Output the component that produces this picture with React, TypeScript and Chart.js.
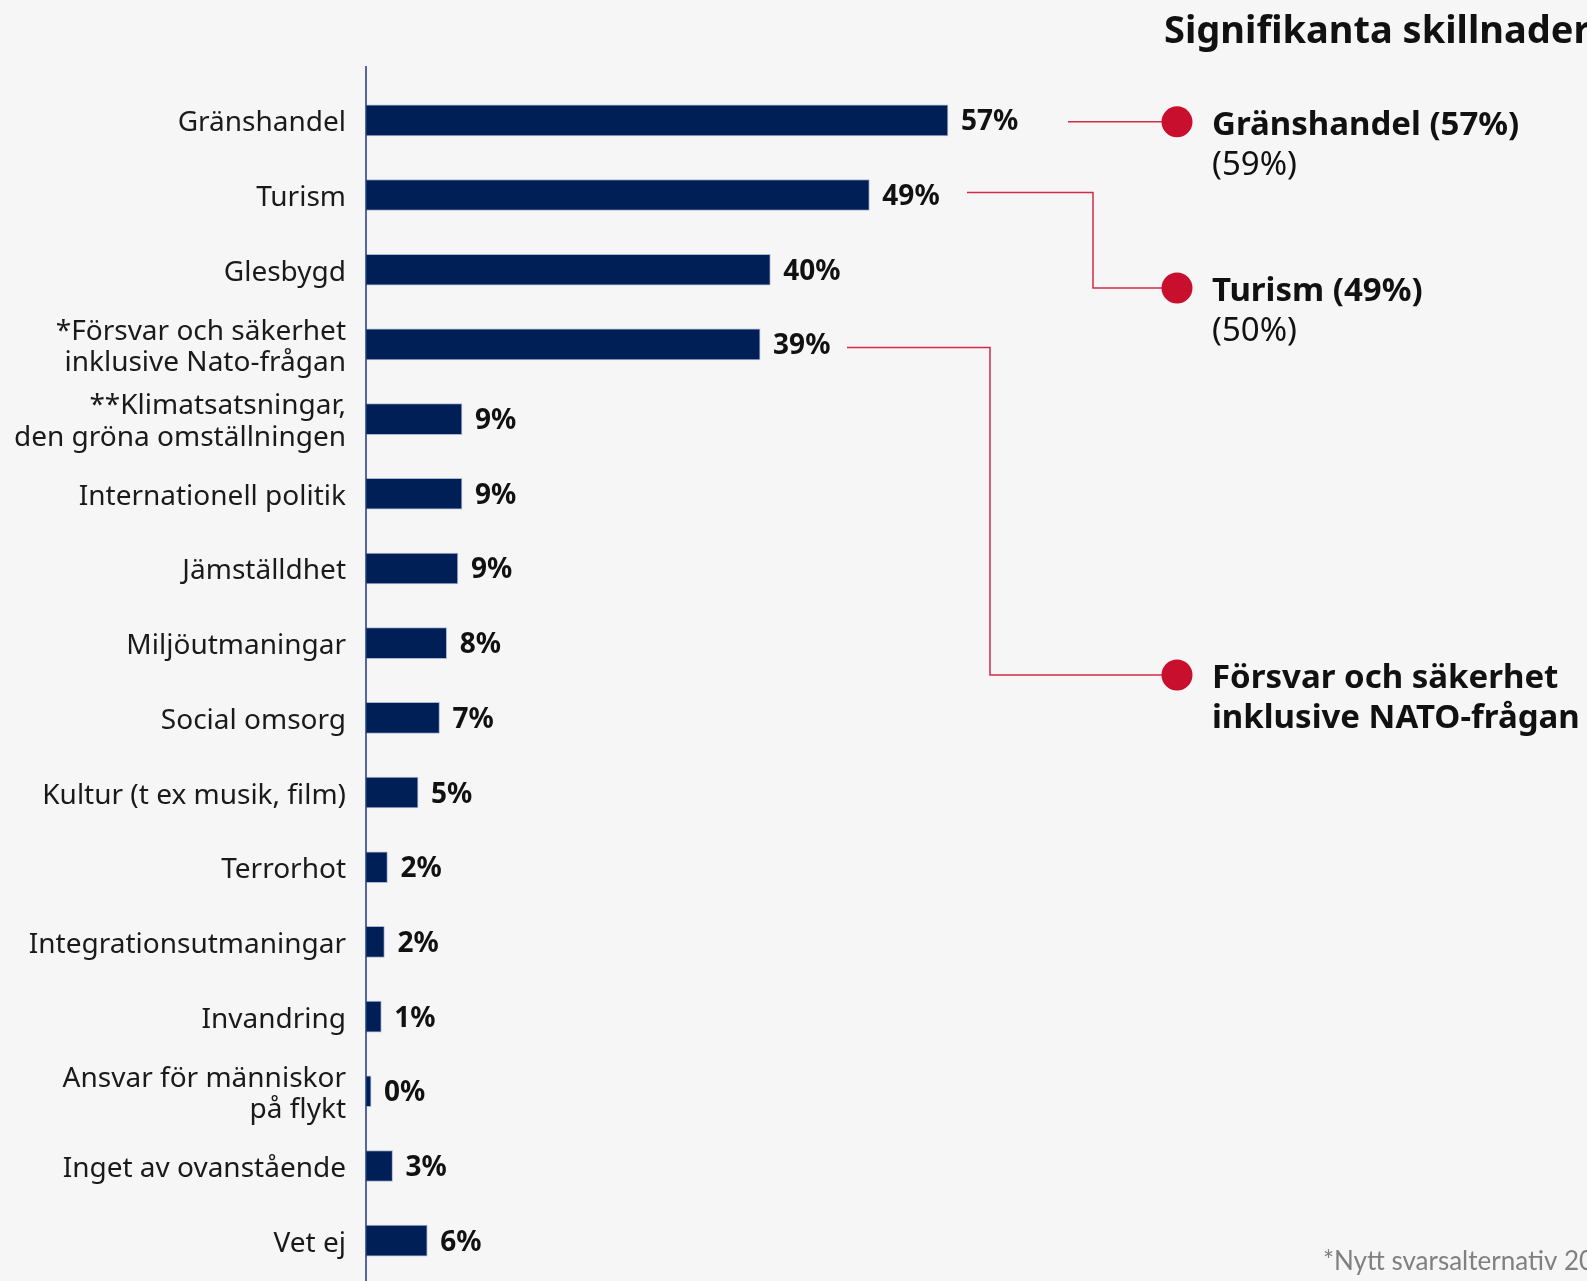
import React, { useEffect, useRef } from "react";
import { Chart, registerables } from "chart.js";

Chart.register(...registerables);

// ---------- data ----------
const categories: (string | string[])[] = [
  "Gränshandel",
  "Turism",
  "Glesbygd",
  ["*Försvar och säkerhet", "inklusive Nato-frågan"],
  ["**Klimatsatsningar,", "den gröna omställningen"],
  "Internationell politik",
  "Jämställdhet",
  "Miljöutmaningar",
  "Social omsorg",
  "Kultur (t ex musik, film)",
  "Terrorhot",
  "Integrationsutmaningar",
  "Invandring",
  ["Ansvar för människor", "på flykt"],
  "Inget av ovanstående",
  "Vet ej",
];
const values = [57, 49.3, 39.6, 38.6, 9.4, 9.4, 9.0, 7.9, 7.2, 5.1, 2.1, 1.8, 1.5, 0.5, 2.6, 6.0];
const valueLabels = ["57%", "49%", "40%", "39%", "9%", "9%", "9%", "8%", "7%", "5%", "2%", "2%", "1%", "0%", "3%", "6%"];

const titleText = "Signifikanta skillnader";
const highlightIndex = [0, 1, 3];
const highlightText: string[][] = [
  ["Gränshandel (57%)"],
  ["Turism (49%)"],
  ["Försvar och säkerhet", "inklusive NATO-frågan"],
];
const highlightPrevious: (string | null)[] = ["(59%)", "(50%)", null];
const footnoteText = "*Nytt svarsalternativ 2024";

// ---------- styling / layout ----------
const W = 1587;
const H = 1281;
const BG = "#f6f6f6";
const NAVY = "#011f57";
const RED = "#c8102e";
const FONT = "'Noto Sans', sans-serif";

const overlayPlugin = {
  id: "overlay",
  afterDatasetsDraw(chart: any) {
    const ctx: CanvasRenderingContext2D = chart.ctx;
    const x = chart.scales.x;
    const y = chart.scales.y;
    const x0 = x.getPixelForValue(0);

    ctx.save();
    // vertical axis line
    ctx.strokeStyle = "#1d3a80";
    ctx.lineWidth = 1.5;
    ctx.beginPath();
    ctx.moveTo(x0, 66);
    ctx.lineTo(x0, H);
    ctx.stroke();

    // value labels
    ctx.fillStyle = "#111111";
    ctx.font = `bold 28px ${FONT}`;
    ctx.textAlign = "left";
    ctx.textBaseline = "middle";
    values.forEach((v, i) => {
      const px = x.getPixelForValue(v);
      const py = y.getPixelForValue(i);
      ctx.fillText(valueLabels[i], px + 13, py + 2);
    });

    // title
    ctx.fillStyle = "#111111";
    ctx.font = `bold 38px ${FONT}`;
    ctx.textBaseline = "alphabetic";
    ctx.fillText(titleText, 1164, 43);

    // annotations
    const layout = [
      { startX: 1068, elbowX: null as number | null, dotY: null as number | null, dyOff: 1.5 },
      { startX: 967, elbowX: 1093, dotY: 288, dyOff: -2.5 },
      { startX: 847, elbowX: 990, dotY: 675, dyOff: 3 },
    ];
    const dotX = 1177;
    const textX = 1212;
    highlightIndex.forEach((idx, k) => {
      const L = layout[k];
      const by = y.getPixelForValue(idx) + L.dyOff;
      const dy = L.dotY ?? by;
      ctx.strokeStyle = "#d42a47";
      ctx.lineWidth = 1.5;
      ctx.beginPath();
      ctx.moveTo(L.startX, by);
      if (L.elbowX !== null) {
        ctx.lineTo(L.elbowX, by);
        ctx.lineTo(L.elbowX, dy);
      }
      ctx.lineTo(dotX, dy);
      ctx.stroke();

      ctx.fillStyle = RED;
      ctx.beginPath();
      ctx.arc(dotX, dy, 15.5, 0, Math.PI * 2);
      ctx.fill();

      ctx.fillStyle = "#111111";
      ctx.textAlign = "left";
      ctx.textBaseline = "alphabetic";
      ctx.font = `bold 33px ${FONT}`;
      let base = dy + 13;
      highlightText[k].forEach((line) => {
        ctx.fillText(line, textX, base);
        base += 40;
      });
      const prev = highlightPrevious[k];
      if (prev) {
        ctx.font = `33px ${FONT}`;
        ctx.fillText(prev, textX, base);
      }
    });

    // footnote
    ctx.fillStyle = "#808080";
    ctx.font = `26px Lato, sans-serif`;
    ctx.textAlign = "left";
    ctx.textBaseline = "alphabetic";
    ctx.fillText(footnoteText, 1323, 1270);

    ctx.restore();
  },
};

export default function App() {
  const ref = useRef<HTMLCanvasElement | null>(null);

  useEffect(() => {
    if (!ref.current) return;
    const chart = new Chart(ref.current, {
      type: "bar",
      data: {
        labels: categories as any,
        datasets: [
          {
            data: values,
            backgroundColor: NAVY,
            borderColor: "rgba(110,130,180,0.55)",
            borderWidth: 1,
            borderSkipped: "left",
            barThickness: 31,
          },
        ],
      },
      options: {
        indexAxis: "y",
        responsive: false,
        animation: false,
        devicePixelRatio: 1,
        layout: { padding: { top: 83, bottom: 3, left: 0, right: 200 } },
        plugins: {
          legend: { display: false },
          tooltip: { enabled: false },
          title: { display: false },
        },
        scales: {
          x: {
            display: false,
            min: 0,
            max: 100,
          },
          y: {
            position: "left",
            grid: { display: false, drawTicks: false },
            border: { display: false },
            afterFit: (scale: any) => {
              scale.width = 366;
              scale.paddingTop = 0;
              scale.paddingBottom = 0;
            },
            ticks: {
              padding: 20,
              labelOffset: 3,
              color: "#1a1a1a",
              font: { family: FONT, size: 28, lineHeight: 1.125 },
            },
          },
        },
      },
      plugins: [overlayPlugin],
    });
    return () => chart.destroy();
  }, []);

  return (
    <div
      style={{
        position: "fixed",
        left: 0,
        top: 0,
        width: W,
        height: H,
        background: BG,
        overflow: "hidden",
      }}
    >
      <canvas ref={ref} width={W} height={H} style={{ width: W, height: H, display: "block" }} />
    </div>
  );
}
